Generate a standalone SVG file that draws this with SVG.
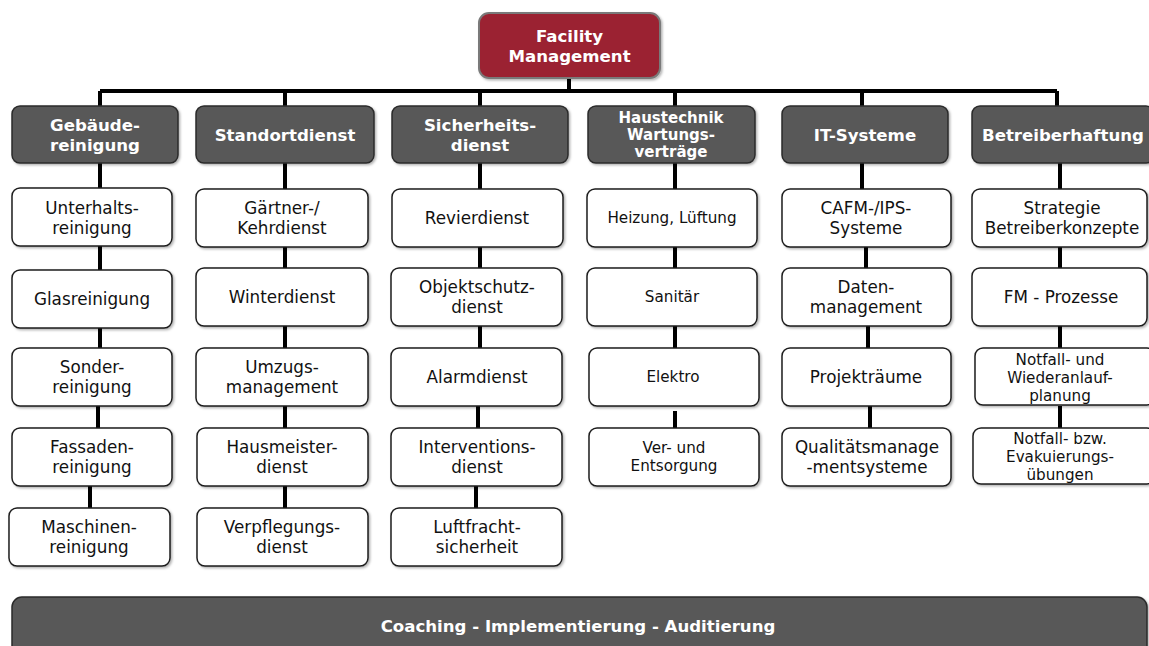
<svg xmlns="http://www.w3.org/2000/svg" width="1149" height="646" viewBox="0 0 1149 646">
<defs>
<filter id="sh" x="-10%" y="-10%" width="125%" height="130%">
<feDropShadow dx="1.5" dy="1.5" stdDeviation="1.2" flood-color="#000" flood-opacity="0.3"/>
</filter>
</defs>
<style>
.top{fill:#9b2230;stroke:#7a7a7a;stroke-width:2;filter:url(#sh)}
.hd{fill:#595959;stroke:#2b2b2b;stroke-width:1.5;filter:url(#sh)}
.ch{fill:#fff;stroke:#1e1e1e;stroke-width:1.5;filter:url(#sh)}
.ht{font-family:"DejaVu Sans",Verdana,sans-serif;font-weight:bold;font-size:16.6px;fill:#fff;text-anchor:middle}
.hs{font-family:"DejaVu Sans",Verdana,sans-serif;font-weight:bold;font-size:15px;fill:#fff;text-anchor:middle}
.ct{font-family:"DejaVu Sans",Verdana,sans-serif;font-size:16.8px;fill:#111;text-anchor:middle}
.cs{font-family:"DejaVu Sans",Verdana,sans-serif;font-size:15.2px;fill:#111;text-anchor:middle}
.ln{stroke:#000;stroke-width:4;fill:none}
</style>
<rect width="1149" height="646" fill="#fff"/>
<g id="connectors">
<path class="ln" d="M569 78 V91 M100 91 H1057 M100 91 V106 M285 91 V106 M480 91 V106 M675 91 V106 M862 91 V106 M1057 91 V106"/>
<path class="ln" d="M100 163 V188 M100 246 V270 M100 328 V348 M98 406 V428 M90 486 V508"/>
<path class="ln" d="M285 163 V189 M285 247 V268 M285 326 V348 M285 406 V428 M285 486 V508"/>
<path class="ln" d="M480 163 V189 M480 247 V268 M480 326 V348 M478 406 V428 M476 486 V508"/>
<path class="ln" d="M675 163 V189 M675 247 V268 M675 326 V353 M675 411 V428"/>
<path class="ln" d="M862 163 V189 M866 247 V268 M868 326 V348 M870 406 V428"/>
<path class="ln" d="M1060 163 V189 M1060 247 V268 M1060 326 V348 M1060 406 V428"/>
</g>
<g id="n-fm"><rect class="top" x="479" y="13" width="181" height="65" rx="10"/><text class="ht" x="569.5" y="42">Facility</text><text class="ht" x="569.5" y="62">Management</text></g>

<g id="h1"><rect class="hd" x="12" y="106" width="166" height="57" rx="8"/><text class="ht" x="95" y="131">Gebäude-</text><text class="ht" x="95" y="151">reinigung</text></g>
<g id="h2"><rect class="hd" x="196" y="106" width="178" height="57" rx="8"/><text class="ht" x="285" y="141">Standortdienst</text></g>
<g id="h3"><rect class="hd" x="392" y="106" width="176" height="57" rx="8"/><text class="ht" x="480" y="131">Sicherheits-</text><text class="ht" x="480" y="151">dienst</text></g>
<g id="h4"><rect class="hd" x="588" y="106" width="167" height="57" rx="8"/><text class="hs" x="671" y="123">Haustechnik</text><text class="hs" x="671" y="140">Wartungs-</text><text class="hs" x="671" y="157">verträge</text></g>
<g id="h5"><rect class="hd" x="782" y="106" width="166" height="57" rx="8"/><text class="ht" x="865" y="141">IT-Systeme</text></g>
<g id="h6"><rect class="hd" x="972" y="106" width="182" height="57" rx="8"/><text class="ht" x="1063" y="141">Betreiberhaftung</text></g>

<g id="c1a"><rect class="ch" x="12" y="188" width="160" height="58" rx="8"/><text class="ct" x="92" y="214">Unterhalts-</text><text class="ct" x="92" y="234">reinigung</text></g>
<g id="c1b"><rect class="ch" x="12" y="270" width="160" height="58" rx="8"/><text class="ct" x="92" y="305">Glasreinigung</text></g>
<g id="c1c"><rect class="ch" x="12" y="348" width="160" height="58" rx="8"/><text class="ct" x="92" y="373">Sonder-</text><text class="ct" x="92" y="393">reinigung</text></g>
<g id="c1d"><rect class="ch" x="12" y="428" width="160" height="58" rx="8"/><text class="ct" x="92" y="453">Fassaden-</text><text class="ct" x="92" y="473">reinigung</text></g>
<g id="c1e"><rect class="ch" x="9" y="508" width="161" height="58" rx="8"/><text class="ct" x="89" y="533">Maschinen-</text><text class="ct" x="89" y="553">reinigung</text></g>

<g id="c2a"><rect class="ch" x="196" y="189" width="172" height="58" rx="8"/><text class="ct" x="282" y="214">Gärtner-/</text><text class="ct" x="282" y="234">Kehrdienst</text></g>
<g id="c2b"><rect class="ch" x="196" y="268" width="172" height="58" rx="8"/><text class="ct" x="282" y="303">Winterdienst</text></g>
<g id="c2c"><rect class="ch" x="196" y="348" width="172" height="58" rx="8"/><text class="ct" x="282" y="373">Umzugs-</text><text class="ct" x="282" y="393">management</text></g>
<g id="c2d"><rect class="ch" x="197" y="428" width="171" height="58" rx="8"/><text class="ct" x="282" y="453">Hausmeister-</text><text class="ct" x="282" y="473">dienst</text></g>
<g id="c2e"><rect class="ch" x="197" y="508" width="171" height="58" rx="8"/><text class="ct" x="282" y="533">Verpflegungs-</text><text class="ct" x="282" y="553">dienst</text></g>

<g id="c3a"><rect class="ch" x="392" y="189" width="171" height="58" rx="8"/><text class="ct" x="477" y="224">Revierdienst</text></g>
<g id="c3b"><rect class="ch" x="391" y="268" width="171" height="58" rx="8"/><text class="ct" x="477" y="293">Objektschutz-</text><text class="ct" x="477" y="313">dienst</text></g>
<g id="c3c"><rect class="ch" x="391" y="348" width="171" height="58" rx="8"/><text class="ct" x="477" y="383">Alarmdienst</text></g>
<g id="c3d"><rect class="ch" x="391" y="428" width="171" height="58" rx="8"/><text class="ct" x="477" y="453">Interventions-</text><text class="ct" x="477" y="473">dienst</text></g>
<g id="c3e"><rect class="ch" x="391" y="508" width="171" height="58" rx="8"/><text class="ct" x="477" y="533">Luftfracht-</text><text class="ct" x="477" y="553">sicherheit</text></g>

<g id="c4a"><rect class="ch" x="587" y="189" width="170" height="58" rx="8"/><text class="cs" x="672" y="223">Heizung, Lüftung</text></g>
<g id="c4b"><rect class="ch" x="587" y="268" width="170" height="58" rx="8"/><text class="cs" x="672" y="302">Sanitär</text></g>
<g id="c4c"><rect class="ch" x="589" y="348" width="170" height="58" rx="8"/><text class="cs" x="673" y="382">Elektro</text></g>
<g id="c4d"><rect class="ch" x="589" y="428" width="170" height="58" rx="8"/><text class="cs" x="674" y="453">Ver- und</text><text class="cs" x="674" y="471">Entsorgung</text></g>

<g id="c5a"><rect class="ch" x="782" y="189" width="169" height="58" rx="8"/><text class="ct" x="866" y="214">CAFM-/IPS-</text><text class="ct" x="866" y="234">Systeme</text></g>
<g id="c5b"><rect class="ch" x="782" y="268" width="169" height="58" rx="8"/><text class="ct" x="866" y="293">Daten-</text><text class="ct" x="866" y="313">management</text></g>
<g id="c5c"><rect class="ch" x="782" y="348" width="169" height="58" rx="8"/><text class="ct" x="866" y="383">Projekträume</text></g>
<g id="c5d"><rect class="ch" x="782" y="428" width="169" height="58" rx="8"/><text class="ct" x="867" y="453">Qualitätsmanage</text><text class="ct" x="867" y="473">-mentsysteme</text></g>

<g id="c6a"><rect class="ch" x="972" y="189" width="175" height="58" rx="8"/><text class="ct" x="1062" y="214">Strategie</text><text class="ct" x="1062" y="234">Betreiberkonzepte</text></g>
<g id="c6b"><rect class="ch" x="972" y="268" width="175" height="58" rx="8"/><text class="ct" x="1061" y="303">FM - Prozesse</text></g>
<g id="c6c"><rect class="ch" x="975" y="348" width="180" height="57" rx="8"/><text class="cs" x="1060" y="365">Notfall- und</text><text class="cs" x="1060" y="383">Wiederanlauf-</text><text class="cs" x="1060" y="401">planung</text></g>
<g id="c6d"><rect class="ch" x="973" y="428" width="182" height="56" rx="8"/><text class="cs" x="1060" y="444">Notfall- bzw.</text><text class="cs" x="1060" y="462">Evakuierungs-</text><text class="cs" x="1060" y="480">übungen</text></g>

<g id="coaching"><rect class="hd" x="12" y="597" width="1135" height="70" rx="10"/><text class="ht" x="578" y="632">Coaching - Implementierung - Auditierung</text></g>
</svg>
